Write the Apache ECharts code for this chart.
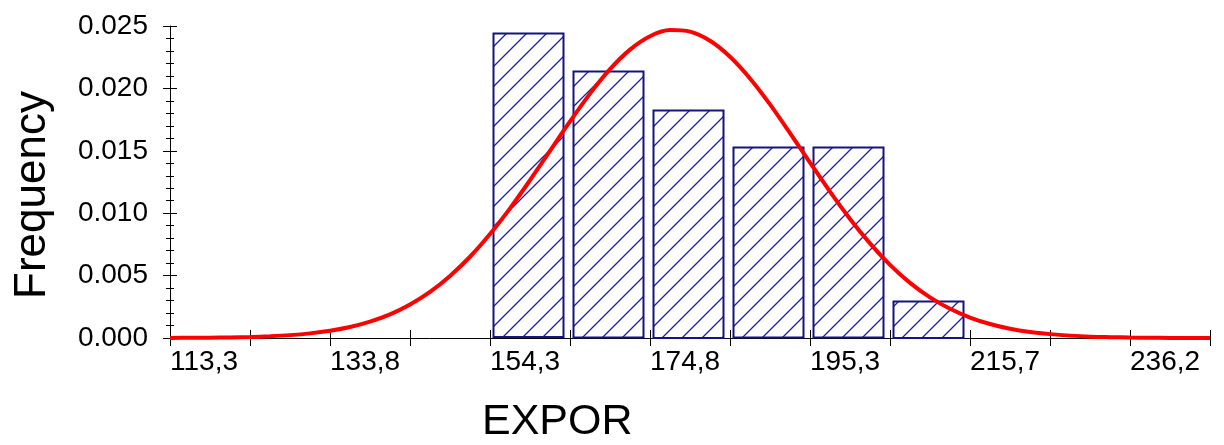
<!DOCTYPE html>
<html>
<head>
<meta charset="utf-8">
<script src="https://cdn.jsdelivr.net/npm/echarts@6/dist/echarts.min.js"></script>
<style>
  html, body { margin: 0; padding: 0; background: #fff; }
  #main { width: 1224px; height: 445px; }
</style>
</head>
<body>
<div id="main"></div>
<script>
// 直方图数据 (density)
const X_MIN = 113.3
const X_MAX = 246.42
const BIN = 10.24
const binStart = [154.26, 164.50, 174.74, 184.98, 195.22, 205.46]
const freq = [0.0244, 0.0214, 0.0183, 0.0153, 0.0153, 0.0030]

// 正态曲线
const curveX = [113.30, 115.86, 118.42, 120.98, 123.54, 126.10, 128.66, 131.22, 133.78, 136.34,
  138.90, 141.46, 144.02, 146.58, 149.14, 151.70, 154.26, 156.82, 159.38, 161.94,
  164.50, 167.06, 169.62, 172.18, 174.74, 177.30, 179.86, 182.42, 184.98, 187.54,
  190.10, 192.66, 195.22, 197.78, 200.34, 202.90, 205.46, 208.02, 210.58, 213.14,
  215.70, 218.26, 220.82, 223.38, 225.94, 228.50, 231.06, 233.62, 236.18, 238.74,
  241.30, 243.86, 246.42]
const curveY = [0.00001, 0.00002, 0.00003, 0.00005, 0.00008, 0.00014, 0.00023, 0.00037, 0.00058, 0.00088,
  0.00131, 0.00189, 0.00268, 0.00369, 0.00497, 0.00651, 0.00833, 0.01039, 0.01264, 0.01500,
  0.01735, 0.01958, 0.02154, 0.02311, 0.02418, 0.02467, 0.02455, 0.02382, 0.02254, 0.02080,
  0.01872, 0.01642, 0.01406, 0.01173, 0.00954, 0.00758, 0.00586, 0.00442, 0.00326, 0.00234,
  0.00164, 0.00112, 0.00074, 0.00048, 0.00031, 0.00019, 0.00011, 0.00007, 0.00004, 0.00002,
  0.00001, 0.00001, 0.00000]

// 刻度标签
const xTickLabels = ['113,3', '133,8', '154,3', '174,8', '195,3', '215,7', '236,2']
const yMax = 0.025
const yStep = 0.005

const FONT = 'Liberation Sans, Arial, sans-serif'
const NAVY = '#14147f'

// 斜线填充
const hatch = document.createElement('canvas')
hatch.width = 20
hatch.height = 20
const hc = hatch.getContext('2d')
hc.fillStyle = '#fff'
hc.fillRect(0, 0, 20, 20)
hc.strokeStyle = '#1f1f96'
hc.lineWidth = 1.3
hc.beginPath()
hc.moveTo(0, 20); hc.lineTo(20, 0)
hc.moveTo(-5, 5); hc.lineTo(5, -5)
hc.moveTo(15, 25); hc.lineTo(25, 15)
hc.stroke()

const barData = binStart.map((s, i) => [s - X_MIN, s + BIN - X_MIN, freq[i]])
const lineData = curveX.map((x, i) => [x - X_MIN, curveY[i]])

const myChart = echarts.init(document.querySelector('#main'))

const xBase = {
  type: 'value',
  min: 0,
  max: X_MAX - X_MIN,
  interval: BIN,
  splitLine: { show: false },
}
const yBase = {
  type: 'value',
  min: 0,
  max: yMax,
  interval: yStep,
  splitLine: { show: false },
}

const option = {
  animation: false,
  backgroundColor: '#fff',
  grid: {
    left: 170,
    right: 14,
    top: 26,
    bottom: 107,
    containLabel: false,
    outerBoundsMode: 'none',
  },
  xAxis: [
    {
      ...xBase,
      axisLine: { lineStyle: { color: '#000', width: 1 } },
      axisTick: { length: 8, lineStyle: { color: '#000' } },
      axisLabel: {
        margin: 10,
        align: 'left',
        color: '#000',
        fontSize: 28,
        fontFamily: FONT,
        formatter: v => {
          const i = Math.round(v / BIN)
          return i % 2 === 0 ? (xTickLabels[i / 2] || '') : ''
        },
      },
    },
    {
      ...xBase,
      position: 'bottom',
      axisLine: { show: false },
      axisTick: { inside: true, length: 8, lineStyle: { color: '#000' } },
      axisLabel: { show: false },
    },
  ],
  yAxis: [
    {
      ...yBase,
      axisLine: { show: true, lineStyle: { color: '#000', width: 1 } },
      axisTick: { show: true, length: 7, lineStyle: { color: '#000' } },
      minorTick: { show: true, splitNumber: 5, length: 4, lineStyle: { color: '#000' } },
      axisLabel: {
        margin: 22,
        color: '#000',
        fontSize: 28,
        fontFamily: FONT,
        formatter: v => v.toFixed(3),
      },
    },
    {
      ...yBase,
      position: 'left',
      axisLine: { show: false },
      axisTick: { show: true, inside: true, length: 7, lineStyle: { color: '#000' } },
      minorTick: { show: true, splitNumber: 5, length: 4, lineStyle: { color: '#000' } },
      axisLabel: { show: false },
    },
  ],
  graphic: [
    {
      type: 'text',
      x: 33,
      y: 195,
      rotation: Math.PI / 2,
      style: {
        text: 'Frequency',
        fontSize: 44,
        fontFamily: FONT,
        fill: '#000',
        align: 'center',
        verticalAlign: 'middle',
      },
    },
    {
      type: 'text',
      x: 482,
      y: 422,
      style: {
        text: 'EXPOR',
        fontSize: 43,
        fontFamily: FONT,
        fill: '#000',
        align: 'left',
        verticalAlign: 'middle',
      },
    },
  ],
  series: [
    {
      type: 'custom',
      xAxisIndex: 0,
      yAxisIndex: 0,
      data: barData,
      renderItem: (params, api) => {
        const p0 = api.coord([api.value(0), api.value(2)])
        const p1 = api.coord([api.value(1), 0])
        return {
          type: 'rect',
          shape: {
            x: Math.round(p0[0]) + 3.5,
            y: Math.round(p0[1]) + 0.5,
            width: p1[0] - p0[0] - 10,
            height: p1[1] - p0[1] - 1,
          },
          style: {
            fill: { image: hatch, repeat: 'repeat' },
            stroke: NAVY,
            lineWidth: 2,
          },
        }
      },
    },
    {
      type: 'line',
      xAxisIndex: 0,
      yAxisIndex: 0,
      data: lineData,
      smooth: 0.3,
      showSymbol: false,
      lineStyle: { color: '#ff0000', width: 4 },
      z: 5,
    },
  ],
}

myChart.setOption(option)
</script>
</body>
</html>
